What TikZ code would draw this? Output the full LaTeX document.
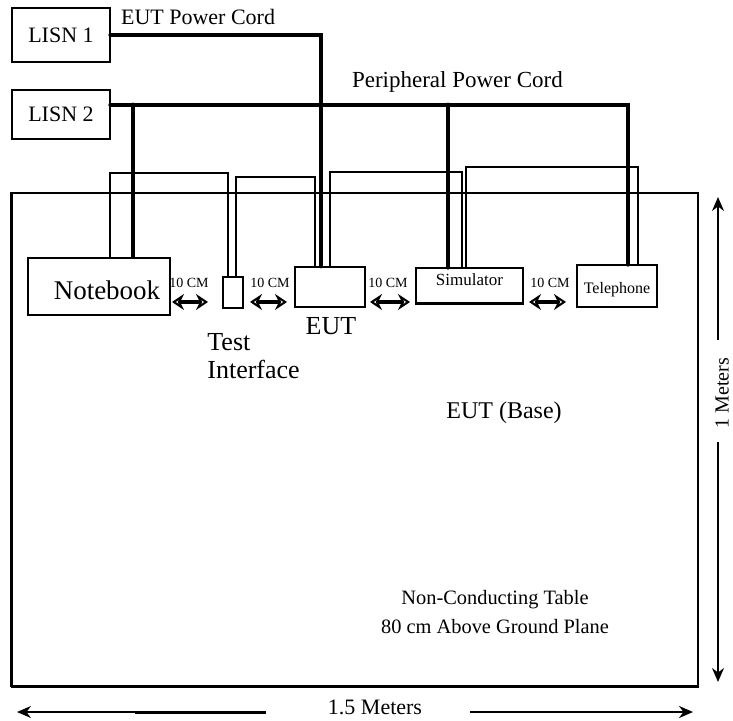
\documentclass[tikz,border=0pt]{standalone}
\usepackage{fontspec}
\setmainfont{Liberation Serif}
\usetikzlibrary{arrows.meta,fit,calc}

\tikzset{
  box/.style={draw, line width=0.7pt, inner sep=0pt},
  cord/.style={line width=2.4pt, line cap=round},
  sig/.style={line width=0.6pt},
  gap/.style={{Stealth[open,length=6pt,width=8pt]}-{Stealth[open,length=6pt,width=8pt]}, line width=1.6pt},
  dim/.style={-{Stealth[length=7pt,width=6pt]}, line width=0.8pt},
  fs/.style={font=\fontsize{#1}{#1}\selectfont}
}

\begin{document}
\begin{tikzpicture}[x=0.5pt,y=-0.5pt]
\useasboundingbox (0,0) rectangle (733,721);

% table
\node[box, line width=0.6pt, fit={(12,193) (698,686)}] (tbl) {};
\draw[line width=1.5pt] (tbl.south west) -- (tbl.south east);
\draw[line width=1pt] (tbl.south west) -- (tbl.north west);

% LISNs
\node[box, fit={(12,8) (110,62)}, label={[fs=11]center:LISN 1}] (l1) {};
\node[box, fit={(12,90) (110,139)}, label={[fs=11]center:LISN 2}] (l2) {};

% units on the table
\node[box, line width=1.4pt, fit={(28,258) (170,315)}, label={[fs=13.5, xshift=4pt, yshift=-2pt]center:Notebook}] (nb) {};
\node[box, fit={(223,277) (243,308)}] (ti) {};
\node[box, line width=1pt, fit={(295,267) (365,307)}] (eut) {};
\node[box, fit={(416,268) (523,303)}, label={[fs=8.5, yshift=3pt]center:Simulator}] (sim) {};
\draw[line width=1.4pt] (sim.south west) -- (sim.south east);
\node[box, fit={(577,265) (657,307)}, label={[fs=8, yshift=-2pt]center:Telephone}] (tel) {};

% signal cables
\draw[sig] (nb.north -| 110,0) |- (228,173) -- (ti.north -| 228,0);
\draw[sig] (ti.north -| 236,0) |- (315,177) -- (eut.north -| 315,0);
\draw[sig] (eut.north -| 330,0) |- (462,172) -- (sim.north -| 462,0);
\draw[sig] (sim.north -| 466,0) |- (638,167) -- (tel.north -| 638,0);

% power cords
\coordinate (j1) at (133,105);
\coordinate (j2) at (448,105);
\draw[cord] (l1.east) -| (eut.north -| 321,0);
\draw[cord] (l2.east |- 0,105) -| (tel.north -| 628,0);
\draw[cord] (j1) -- (nb.north -| j1);
\draw[cord] (j2) -- (sim.north -| j2);
\node[fs=11, anchor=west] (eutcord) at (114,17) {EUT Power Cord};
\node[fs=11.5, anchor=west] (pcord) at (345,82) {Peripheral Power Cord};

% spacings
\foreach \xa/\xb/\xl in {172/208/189, 250/287/270, 370/410/388, 529/566/550} {
  \draw[gap] (\xa,302) -- (\xb,302);
  \node[fs=7] at (\xl,283) {10 CM};
}

% labels
\node[fs=13] (eutlbl) at (331,326) {EUT};
\node[fs=13, align=left, anchor=north west, inner sep=0pt] (tilbl) at (207,333) {Test\\[1pt]Interface};
\node[fs=12] (base) at (504,413) {EUT (Base)};
\node[fs=10.2, align=center] (note) at (495,612) {Non-Conducting Table\\[4pt]80 cm Above Ground Plane};

% dimensions
\draw[dim] (718,340) -- (718,197);
\draw[dim] (718,442) -- (718,682);
\node[fs=10, rotate=90] (hgt) at (722,393) {1 Meters};
\draw[dim] (266,712) -- (17,712);
\draw[line width=1.5pt] (135,712) -- (266,712);
\draw[dim, line width=1.4pt] (470,712) -- (693,712);
\node[fs=11] (wid) at (375,707) {1.5 Meters};
\end{tikzpicture}
\end{document}
